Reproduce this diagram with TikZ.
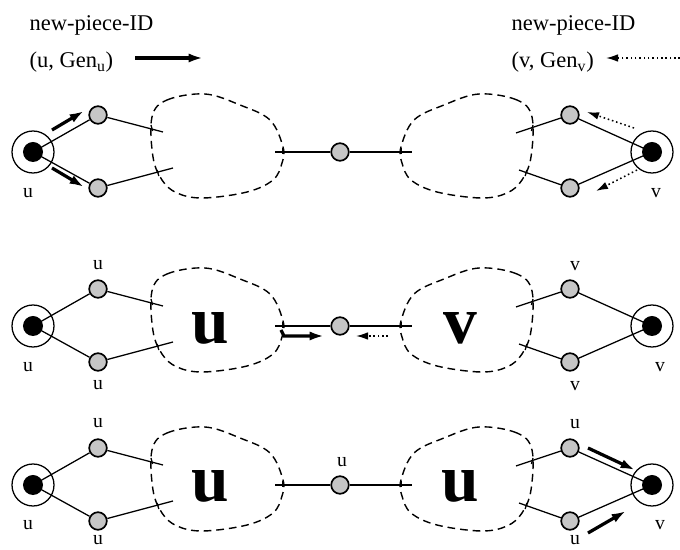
\documentclass[tikz,border=0pt]{standalone}
\usepackage{fontspec}
\setmainfont{Liberation Serif}
\usetikzlibrary{arrows.meta}

\tikzset{
    cluster/.pic={
        % dashed region with the crossing marks of the edges
        \draw[rim] plot[smooth cycle, tension=0.6] coordinates {(152,-35) (167,-52) (205,-58) (240,-47) (270,-32) (283,-5) (282,11) (273,28) (247,40) (203,46) (177,41) (162,28) (153,5)};
        \draw[edge] (151,-27) -- (152.6,-21);
        \draw[edge] (157.2,18) -- (158.8,24);
        \draw[edge] (283,-4) -- (283,2);
    }
}

\begin{document}
\begin{tikzpicture}[
    x=0.025cm, y=-0.025cm,
    every node/.style={font=\fontsize{14}{16}\selectfont, inner sep=1pt},
    hub/.style={circle, draw, line width=0.9pt, minimum size=1.05cm, inner sep=0pt,
        path picture={\fill (path picture bounding box.center) circle (0.25cm);}},
    site/.style={circle, draw, line width=1.2pt, fill=gray!45, minimum size=0.44cm, inner sep=0pt},
    edge/.style={line width=0.9pt},
    rim/.style={line width=1pt, dash pattern=on 5.5pt off 3.5pt},
    push/.style={line width=2.3pt, -{Latex[length=3.6mm, width=2.3mm]}},
    pull/.style={line width=1.1pt, dotted, -{Latex[length=3mm, width=1.9mm]}},
    big/.style={font=\fontsize{48}{48}\selectfont\bfseries},
    head/.style={anchor=west, font=\fontsize{16}{18}\selectfont}
]
\useasboundingbox (0,0) rectangle (680,550);

% Headers
\node[head] (hl) at (28,25) {new-piece-ID};
\node[head] (gl) at (28,62) {(u, Gen\textsubscript{u})};
\node[head] (hr) at (510,25) {new-piece-ID};
\node[head] (gr) at (510,62) {(v, Gen\textsubscript{v})};

\coordinate (pa) at (135,58);
\coordinate (pb) at (203,58);
\coordinate (qa) at (680,58);
\coordinate (qb) at (606,58);
\draw[push] (pa) -- (pb);
\draw[pull] (qa) -- (qb);

% Three rows of the same graph
\foreach \r/\y in {1/152, 2/326, 3/485} {
    \pic at (0,\y) {cluster};
    \pic[xscale=-1] at (684,\y) {cluster};

    \node[hub] (u\r) at (33,\y) {};
    \node[site] (ua\r) at (98,\y-37) {};
    \node[site] (ub\r) at (98,\y+36) {};
    \node[site] (m\r) at (340,\y) {};
    \node[site] (va\r) at (570,\y-37) {};
    \node[site] (vb\r) at (570,\y+36) {};
    \node[hub] (v\r) at (652,\y) {};

    \coordinate (ea\r) at (163,\y-20);
    \coordinate (eb\r) at (173,\y+16);
    \coordinate (fa\r) at (516,\y-19);
    \coordinate (fb\r) at (519,\y+18);
    \coordinate (cl\r) at (275,\y);
    \coordinate (cr\r) at (412,\y);

    \draw[edge] (ua\r) -- (u\r.center);
    \draw[edge] (ub\r) -- (u\r.center);
    \draw[edge] (ua\r) -- (ea\r);
    \draw[edge] (ub\r) -- (eb\r);
    \draw[edge] (va\r) -- (v\r.center);
    \draw[edge] (vb\r) -- (v\r.center);
    \draw[edge] (va\r) -- (fa\r);
    \draw[edge] (vb\r) -- (fb\r);
    \draw[edge] (cl\r) -- (m\r) -- (cr\r);
}

% Labels, first row
\node (lu1) at (28,193) {u};
\node (lv1) at (656,193) {v};

% Labels, second row
\node (lu2) at (28,367) {u};
\node (lua2) at (98,265) {u};
\node (lub2) at (98,385) {u};
\node (lva2) at (575,266) {v};
\node (lvb2) at (575,386) {v};
\node (lv2) at (660,367) {v};
\node[big] (bu2) at (210,328) {u};
\node[big] (bv2) at (460,328) {v};

% Labels, third row
\node (lu3) at (28,525) {u};
\node (lua3) at (98,423) {u};
\node (lub3) at (98,540) {u};
\node (lm3) at (342,462) {u};
\node (lva3) at (575,424) {u};
\node (lvb3) at (575,540) {u};
\node (lv3) at (660,525) {v};
\node[big] (bu3) at (210,486) {u};
\node[big] (bv3) at (460,486) {u};

% Arrows, first row
\coordinate (a1) at (52,130);
\coordinate (a2) at (84,111);
\coordinate (a3) at (52,168);
\coordinate (a4) at (84,187);
\draw[push] (a1) -- (a2);
\draw[push] (a3) -- (a4);

\coordinate (b1) at (634,128);
\coordinate (b2) at (587,112);
\coordinate (b3) at (637,170);
\coordinate (b4) at (596,191);
\draw[pull] (b1) -- (b2);
\draw[pull] (b3) -- (b4);

% Arrows, second row
\coordinate (c0) at (281,330);
\coordinate (c1) at (284,336);
\coordinate (c2) at (324,336);
\draw[push] (c0) -- (c1) -- (c2);

\coordinate (d1) at (388,336);
\coordinate (d2) at (356,336);
\draw[pull] (d1) -- (d2);

% Arrows, third row
\coordinate (e1) at (588,448);
\coordinate (e2) at (635,470);
\coordinate (e3) at (588,533);
\coordinate (e4) at (626,511);
\draw[push] (e1) -- (e2);
\draw[push] (e3) -- (e4);

\end{tikzpicture}
\end{document}
